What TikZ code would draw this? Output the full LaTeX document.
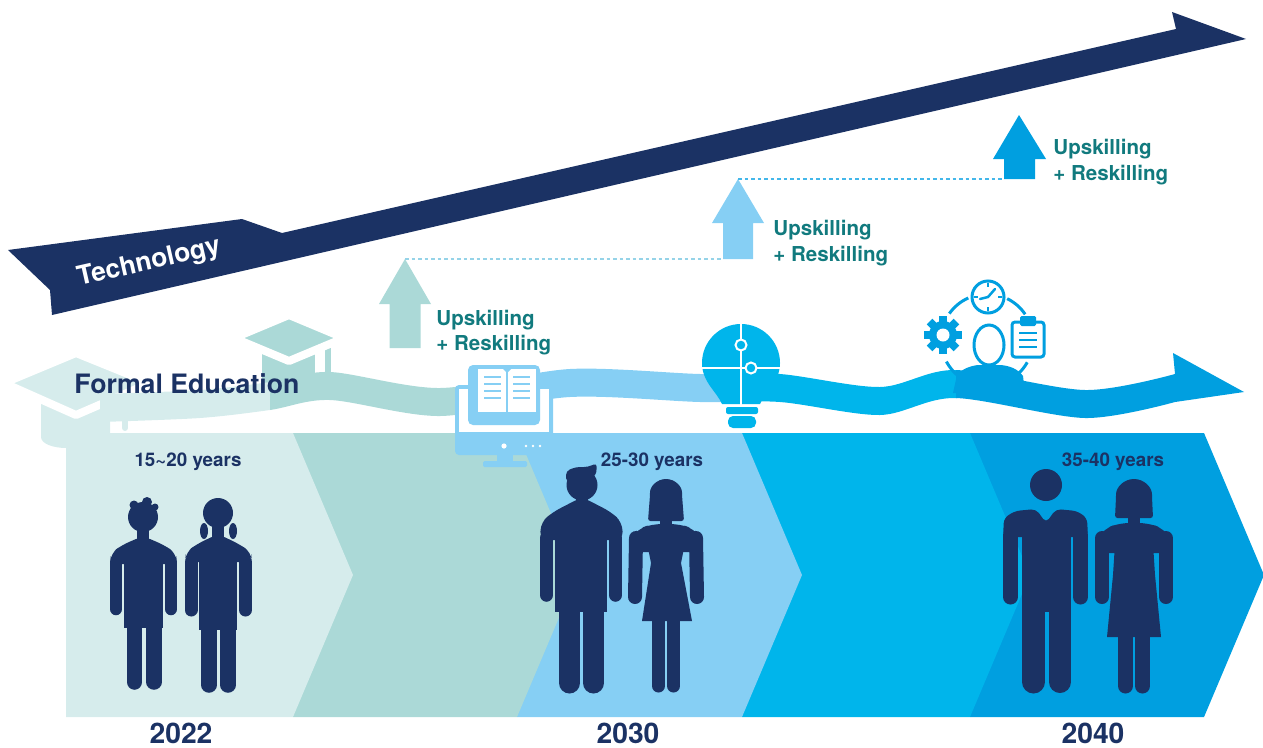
\documentclass[tikz,border=0pt]{standalone}
\usepackage{fontspec}
\setmainfont{TeX Gyre Heros}
\usepackage{xcolor}

\definecolor{navy}{HTML}{1B3264}
\definecolor{tealtext}{HTML}{117A7E}
\definecolor{edu1}{HTML}{D6ECEC}
\definecolor{edu2}{HTML}{ABD9D7}
\definecolor{edu3}{HTML}{86CFF4}
\definecolor{edu4}{HTML}{00B5EB}
\definecolor{edu5}{HTML}{009FE0}

\begin{document}
\begin{tikzpicture}[x=0.02cm, y=0.02cm,
	limb/.style={draw=navy, line cap=round, line width=#1},
	upsk/.style={text=tealtext, font=\fontsize{11.7}{14}\selectfont\bfseries, inner sep=0pt, anchor=base west},
	age/.style={text=navy, font=\fontsize{10.7}{13}\selectfont\bfseries, inner sep=0pt, anchor=base},
	yr/.style={text=navy, font=\fontsize{16.1}{19}\selectfont\bfseries, inner sep=0pt, anchor=base},
	guide/.style={dash pattern=on 2.2pt off 1.5pt, line width=0.8pt}]

	\useasboundingbox (0,0) rectangle (1263,-747);

	\def\wave#1{\fill[#1] plot[smooth] coordinates {(100,-394) (200,-390) (270,-382) (330,-372) (440,-388) (570,-369) (700,-374) (780,-374) (880,-387) (955,-370) (1085,-390) (1175,-374)}
		-- (1173,-353) -- (1244,-392)
		-- plot[smooth] coordinates {(1175,-402) (1085,-418) (955,-398) (880,-415) (780,-402) (700,-402) (570,-397) (440,-416) (330,-400) (270,-410) (200,-418) (100,-422)} -- cycle;}

	% stages
	\foreach \l/\r/\c in {970/1204/edu5, 742/970/edu4, 517/742/edu3, 293/517/edu2, 66/293/edu1}
		\fill[\c] (\l,-433) -- (\r,-433) -- ({\r+60},-575) -- (\r,-717) -- (\l,-717) -- cycle;

	% caps
	\begin{scope}
		\fill[edu1] (41,-398) -- (41,-437) .. controls (41,-444) and (54,-448) .. (66,-448) -- (66,-433) -- (110,-433) -- (110,-398) -- cycle;
		\draw[edu1, line width=0.12cm, line cap=round] (125,-395) -- (125,-428);
		\filldraw[edu1, draw=white, line width=0.16cm, line join=round] (4,-383) -- (76,-353) -- (150,-383) -- (76,-415) -- cycle;

		\fill[edu2] (262,-345) rectangle (315,-390);
		\draw[edu2, line width=0.12cm, line cap=round] (328,-335) -- (328,-372);
		\filldraw[edu2, draw=white, line width=0.16cm, line join=round] (234,-338) -- (289,-315) -- (344,-338) -- (289,-361) -- cycle;
	\end{scope}

	% the wave
	\foreach \a/\b/\c in {0/270/edu1, 270/465/edu2, 465/738/edu3, 738/956/edu4, 956/1263/edu5} {
		\begin{scope}
			\clip (\a,-300) rectangle ({\b+1},-440);
			\wave{\c}
		\end{scope}
	}

	% monitor with book
	\begin{scope}
		\fill[edu3, rounded corners=0.08cm] (455,-385) rectangle (553,-455);
		\fill[white] (459,-389) rectangle (549,-432);
		\fill[edu3] (497,-454) rectangle (513,-462);
		\fill[edu3, rounded corners=0.03cm] (483,-461) rectangle (527,-467);
		\fill[white] (504,-446) circle (2.6);
		\foreach \x in {526,533,540}
			\fill[white] (\x,-446) circle (1.4);
		\fill[edu3, rounded corners=0.1cm] (468,-365) rectangle (540,-425);
		\fill[white] (478,-369) rectangle (536,-412);
		\fill[edu3] (503,-369) -- (511,-369) -- (507,-373) -- cycle;
		\draw[edu3, line width=0.03cm] (507,-372) -- (507,-412);
		\foreach \y in {377,384,391,398} {
			\draw[edu3, line width=0.04cm] (484,-\y) -- (501,-\y);
			\draw[edu3, line width=0.04cm] (513,-\y) -- (530,-\y);
		}
	\end{scope}

	% puzzle bulb
	\begin{scope}
		\fill[edu4] (722,-404) .. controls (717,-392) and (702,-382) .. (702,-363) arc[start angle=180, end angle=0, radius=39] .. controls (780,-382) and (765,-392) .. (760,-404) -- cycle;
		\fill[edu4, rounded corners=0.04cm] (726,-407) rectangle (758,-414);
		\fill[edu4, rounded corners=0.1cm] (728,-416) rectangle (756,-428);
		\draw[white, line width=0.04cm] (741,-322) -- (741,-406);
		\draw[white, line width=0.04cm] (700,-368) -- (782,-368);
		\draw[white, line width=0.04cm, fill=edu4] (751,-368) circle (5.5);
		\draw[white, line width=0.04cm, fill=edu4] (741,-345) circle (5.5);
	\end{scope}

	% person with gear, clock and clipboard
	\begin{scope}
		\fill[edu5] (953,-393) -- (957,-375) .. controls (962,-369) and (970,-366) .. (978,-365) -- (1001,-365) .. controls (1010,-366) and (1018,-369) .. (1023,-376) -- (1025,-393) -- cycle;
		\filldraw[fill=white, draw=edu5, line width=0.06cm] (989,-345) ellipse [x radius=15, y radius=20];

		\foreach \a in {0,45,...,315}
			\fill[edu5, rotate around={\a:(943,-335)}] (939,-316) rectangle (947,-330);
		\fill[edu5] (943,-335) circle (14);
		\fill[white] (943,-335) circle (6.5);

		\draw[edu5, line width=0.06cm] (988,-297) circle (16);
		\draw[edu5, line width=0.05cm] (988,-283) -- (988,-287) (988,-311) -- (988,-307) (974,-297) -- (978,-297) (1002,-297) -- (998,-297);
		\draw[edu5, line width=0.05cm, line cap=round] (980,-299) -- (988,-297) -- (995,-289);

		\filldraw[fill=white, draw=edu5, line width=0.06cm, rounded corners=0.06cm] (1012,-322) rectangle (1044,-357);
		\fill[edu5, rounded corners=0.03cm] (1020,-316) rectangle (1036,-326);
		\foreach \y in {333,340,347}
			\draw[edu5, line width=0.05cm] (1019,-\y) -- (1037,-\y);

		\foreach \s/\e in {114/145, 34/64, 208/233, 310/331}
			\draw[edu5, line width=0.06cm] ([shift={(\s:46)}]987,-340) arc[start angle=\s, end angle=\e, radius=46];
	\end{scope}

	% technology
	\fill[navy] (8,-250) -- (242,-219) -- (282,-233) -- (1176,-29) -- (1172,-12) -- (1246,-39) -- (52,-315) -- (50,-290) -- cycle;
	\node[rotate=12.8, text=white, font=\fontsize{15}{18}\selectfont\bfseries, inner sep=0pt] (tech) at (149,-263) {Technology};

	% up arrows
	\fill[edu2] (405,-259) -- (431,-304) -- (420.5,-304) -- (420.5,-348) -- (389.5,-348) -- (389.5,-304) -- (379,-304) -- cycle;
	\fill[edu3] (738,-179) -- (764,-223) -- (753,-223) -- (753,-259) -- (723,-259) -- (723,-223) -- (712,-223) -- cycle;
	\fill[edu5] (1019,-115) -- (1046,-159) -- (1035,-159) -- (1035,-179) -- (1004,-179) -- (1004,-159) -- (993,-159) -- cycle;

	\coordinate (tip1) at (405,-259);
	\coordinate (foot2) at (723,-259);
	\coordinate (tip2) at (738,-179);
	\coordinate (foot3) at (1004,-179);
	\draw[guide, edu2!40!edu3] (tip1) -- (foot2);
	\draw[guide, edu3!50!edu5] (tip2) -- (foot3);

	\node[upsk] (up1) at (436,-325) {Upskilling};
	\node[upsk] (re1) at (436,-350) {+ Reskilling};
	\node[upsk] (up2) at (773,-235) {Upskilling};
	\node[upsk] (re2) at (773,-261) {+ Reskilling};
	\node[upsk] (up3) at (1053,-154) {Upskilling};
	\node[upsk] (re3) at (1053,-180) {+ Reskilling};

	% 2022
	\begin{scope}
		\fill[navy] (143,-517) circle (15);
		\fill[navy] (134,-505) circle (4.5) (147,-502) circle (5) (155,-507) circle (3.5);
		\fill[navy] (137,-528) rectangle (149,-545);
		\fill[navy, rounded corners=0.16cm] (110,-564) -- (111,-553) -- (122,-545) -- (143,-536) -- (164,-545) -- (176,-553) -- (177,-564) -- cycle;
		\fill[navy] (124,-555) rectangle (163,-628);
		\draw[limb=0.25cm] (116,-562) -- (116,-609);
		\draw[limb=0.25cm] (171,-562) -- (171,-609);
		\draw[limb=0.31cm] (134.5,-622) -- (134.5,-682);
		\draw[limb=0.31cm] (154,-622) -- (154,-682);

		\fill[navy] (218,-513) circle (15);
		\fill[navy] (204,-531) ellipse [x radius=4, y radius=8];
		\fill[navy] (233,-531) ellipse [x radius=4, y radius=8];
		\fill[navy] (212,-524) rectangle (224,-542);
		\fill[navy, rounded corners=0.16cm] (185,-562) -- (186,-552) -- (197,-544) -- (218,-534) -- (239,-544) -- (251,-552) -- (252,-562) -- cycle;
		\fill[navy] (199,-553) rectangle (237,-630);
		\draw[limb=0.26cm] (191,-562) -- (191,-610);
		\draw[limb=0.26cm] (245.5,-562) -- (245.5,-610);
		\draw[limb=0.31cm] (209,-625) -- (209,-685);
		\draw[limb=0.31cm] (228,-625) -- (228,-685);
	\end{scope}

	% 2030
	\begin{scope}
		\fill[navy] (582,-485) circle (15.5);
		\fill[navy, rounded corners=0.08cm] (566,-482) -- (566,-471) -- (576,-467) -- (588,-467) -- (597,-463) -- (596,-476) -- (584,-479) -- cycle;
		\fill[navy] (576,-496) rectangle (588,-510);
		\fill[navy, rounded corners=0.16cm] (540,-540) -- (541,-522) -- (553,-512) -- (582,-497) -- (611,-512) -- (622,-522) -- (623,-540) -- cycle;
		\fill[navy] (555,-525) rectangle (607,-612);
		\draw[limb=0.27cm] (546.5,-538) -- (546.5,-595);
		\draw[limb=0.27cm] (615.5,-538) -- (615.5,-595);
		\draw[limb=0.42cm] (569.5,-605) -- (569.5,-683);
		\draw[limb=0.42cm] (593.5,-605) -- (593.5,-683);

		\fill[navy, rounded corners=0.05cm] (648,-521) -- (650,-495) arc[start angle=180, end angle=0, radius=16] -- (684,-521) -- cycle;
		\fill[navy] (660,-512) rectangle (672,-530);
		\fill[navy, rounded corners=0.2cm] (629,-552) -- (630,-538) -- (638,-529) -- (652,-524) -- (680,-524) -- (694,-529) -- (702,-538) -- (703,-552) -- cycle;
		\fill[navy] (645,-530) -- (687,-530) -- (684,-548) -- (681,-563) -- (692,-621) -- (642,-621) -- (651,-563) -- (648,-548) -- cycle;
		\draw[limb=0.28cm] (636,-538) -- (635,-597);
		\draw[limb=0.28cm] (696,-538) -- (697,-597);
		\draw[limb=0.26cm] (658.5,-615) -- (658.5,-686);
		\draw[limb=0.26cm] (673.5,-615) -- (673.5,-686);
	\end{scope}

	% 2040
	\begin{scope}
		\fill[navy] (1046,-485) circle (16);
		\fill[navy, rounded corners=0.1cm] (1003,-537) -- (1004,-518) -- (1015,-511) -- (1036,-509) -- (1046,-523) -- (1056,-509) -- (1077,-511) -- (1087,-518) -- (1088,-537) -- cycle;
		\fill[navy] (1022,-525) rectangle (1071,-612);
		\draw[limb=0.3cm] (1010.5,-535) -- (1010.5,-597);
		\draw[limb=0.3cm] (1080.5,-535) -- (1080.5,-597);
		\draw[limb=0.46cm] (1033.5,-605) -- (1033.5,-682);
		\draw[limb=0.44cm] (1060,-605) -- (1060,-682);

		\fill[navy, rounded corners=0.05cm] (1115,-518) -- (1116,-497) arc[start angle=180, end angle=0, radius=18] -- (1153,-518) -- cycle;
		\fill[navy] (1128,-512) rectangle (1140,-528);
		\fill[navy, rounded corners=0.2cm] (1095,-553) -- (1096,-539) -- (1104,-529) -- (1119,-523) -- (1149,-523) -- (1164,-529) -- (1172,-539) -- (1173,-553) -- cycle;
		\fill[navy] (1116,-528) -- (1152,-528) -- (1155,-575) -- (1161,-637) -- (1107,-637) -- (1113,-575) -- cycle;
		\draw[limb=0.28cm] (1102,-538) -- (1102,-597);
		\draw[limb=0.28cm] (1166,-538) -- (1166,-597);
		\draw[limb=0.3cm] (1125.5,-630) -- (1125.5,-686);
		\draw[limb=0.3cm] (1142.5,-630) -- (1142.5,-686);
	\end{scope}

	\node[age] (age1) at (188,-466) {15\textasciitilde 20 years};
	\node[age] (age2) at (652,-466) {25-30 years};
	\node[age] (age3) at (1113,-466) {35-40 years};

	\node[yr] (yr1) at (181,-743) {2022};
	\node[yr] (yr2) at (628,-743) {2030};
	\node[yr] (yr3) at (1093,-743) {2040};

	\node[anchor=base west, text=navy, font=\fontsize{15.2}{18}\selectfont\bfseries, inner sep=0pt] (edu) at (74,-393) {Formal Education};
\end{tikzpicture}
\end{document}
